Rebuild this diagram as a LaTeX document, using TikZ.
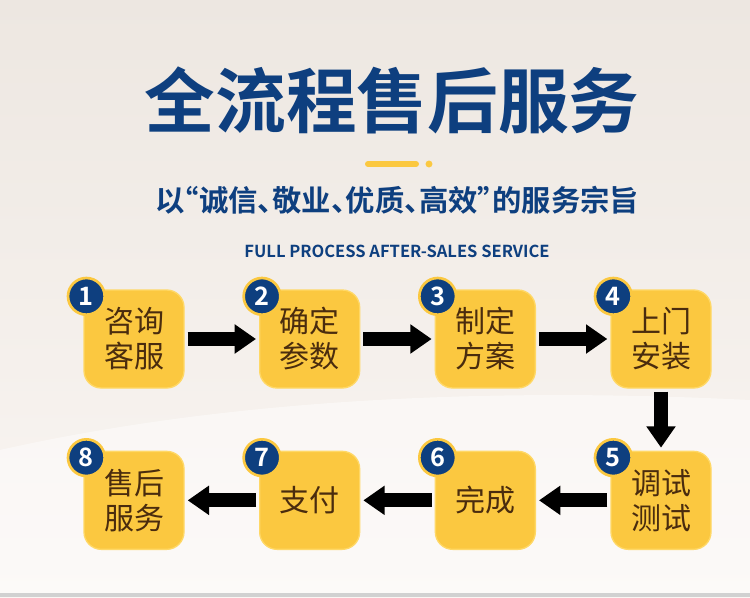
\documentclass[tikz,border=0pt]{standalone}
\usepackage{fontspec}
\setmainfont{Noto Sans CJK SC}[BoldFont={Noto Sans CJK SC Bold}]
\usepackage{xcolor}
\usetikzlibrary{positioning,arrows.meta}
\definecolor{navy}{HTML}{0E3F7F}
\definecolor{gold}{HTML}{FBC840}
\definecolor{goldrim}{HTML}{FFD866}
\definecolor{brn}{HTML}{4A2C0E}
\definecolor{bgtop}{HTML}{EDE7E1}
\definecolor{bgbot}{HTML}{FAF6F3}

\begin{document}
\begin{tikzpicture}[x=0.75pt, y=-0.75pt,
					node distance=46.5pt and 55.75pt,
					stepbox/.style = {shape=rectangle, rounded corners=13pt,
						fill=gold, draw=goldrim, line width=1pt, align=center,
						minimum width=75pt, minimum height=73.5pt, text=brn,
						font=\fontsize{22.5}{26.25}\selectfont},
					numbadge/.style = {shape=circle, fill=navy, draw=gold,
						line width=2pt, minimum size=27.5pt, inner sep=0pt, text=white,
						font=\bfseries\fontsize{19}{19}\selectfont},
					flowarrow/.style = {line width=10.5pt,
						-{Triangle[length=16pt,width=21pt]}, shorten <=2.25pt, shorten >=2.25pt}]
	\useasboundingbox (0,0) rectangle (750,597);
	\shade[top color=bgtop, bottom color=bgbot] (0,0) rectangle (750,597);
	\fill[white, opacity=0.45] (0,450) .. controls (200,405) and (450,385) .. (750,400)
		-- (750,597) -- (0,597) -- cycle;
	\fill[black!18] (0,593) rectangle (750,597);
	% heading
	\node[text=navy, font=\bfseries\fontsize{53}{53}\selectfont] (title) at (392,100) {全流程售后服务};
	\draw[gold, line width=4.5pt, line cap=round] (368,164) -- (416,164);
	\fill[gold] (429,164) circle (2.6pt);
	\node[text=navy, font=\bfseries\fontsize{22}{22}\selectfont\addfontfeatures{RawFeature=+halt}]
		(motto) at (397,200) {以“诚信、敬业、优质、高效”的服务宗旨};
	\node[text=navy, font=\bfseries\fontsize{12.4}{12.4}\selectfont] (eng) at (397,251) {FULL PROCESS AFTER-SALES SERVICE};
	% steps
	\node[stepbox] (consult) at (134,339) {咨询\\客服};
	\node[stepbox, right=of consult] (confirm) {确定\\参数};
	\node[stepbox, right=of confirm] (plan) {制定\\方案};
	\node[stepbox, right=of plan] (install) {上门\\安装};
	\node[stepbox, below=of install] (debug) {调试\\测试};
	\node[stepbox, left=of debug] (finish) {完成};
	\node[stepbox, left=of finish] (pay) {支付};
	\node[stepbox, left=of pay] (aftersale) {售后\\服务};
	\foreach \b/\n in {consult/1, confirm/2, plan/3, install/4, debug/5, finish/6, pay/7, aftersale/8}
		\node[numbadge] (badge\n) at ([shift={(3,7)}]\b.north west) {\n};
	% arrows
	\draw[flowarrow] (consult) -- (confirm);
	\draw[flowarrow] (confirm) -- (plan);
	\draw[flowarrow] (plan) -- (install);
	\draw[flowarrow] (install) -- (debug);
	\draw[flowarrow] (debug) -- (finish);
	\draw[flowarrow] (finish) -- (pay);
	\draw[flowarrow] (pay) -- (aftersale);
\end{tikzpicture}
\end{document}
